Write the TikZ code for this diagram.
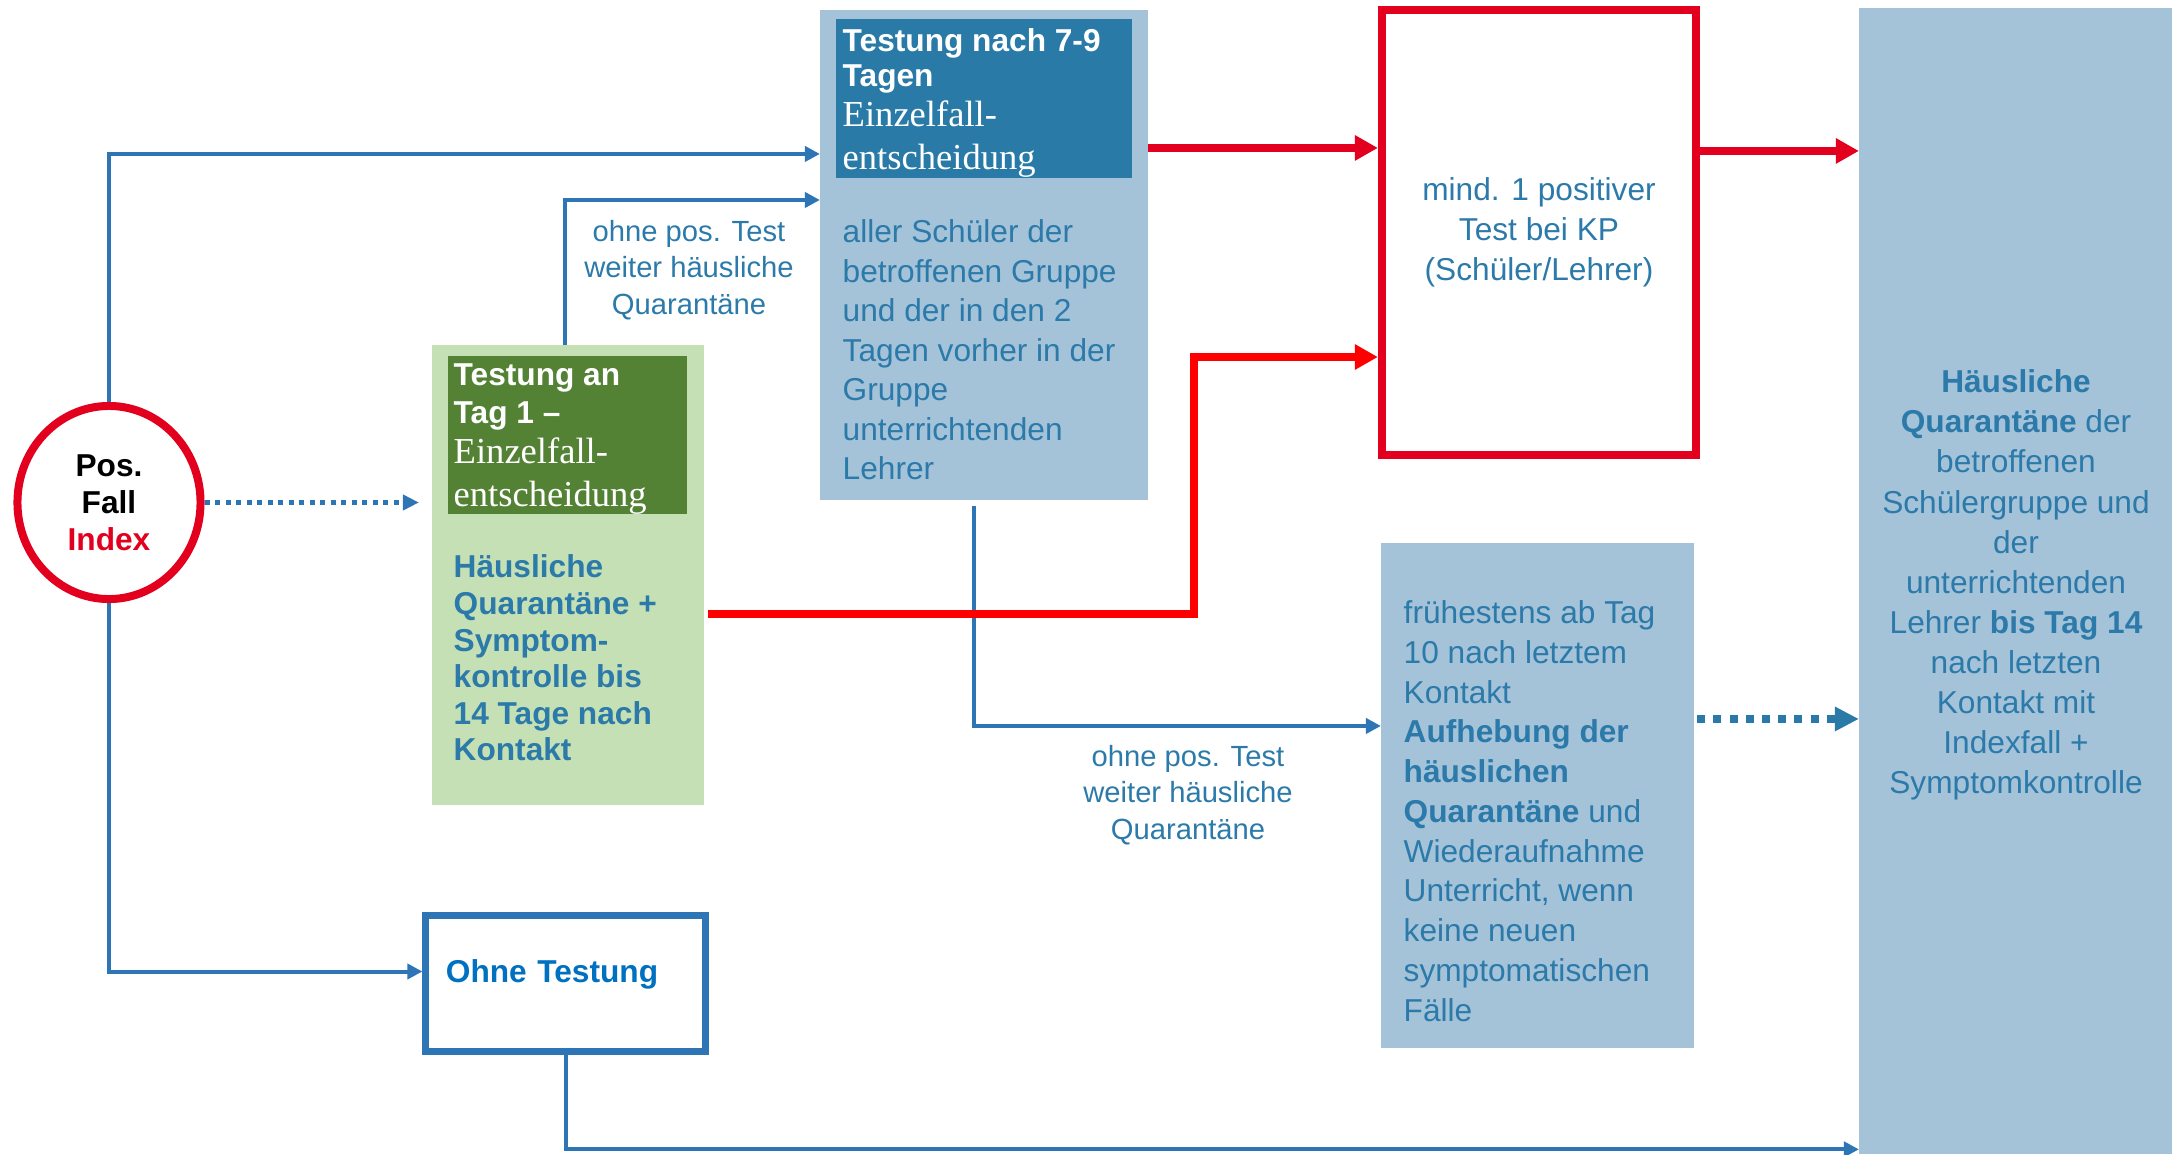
\documentclass[tikz,border=0pt]{standalone}
\usepackage{fontspec}
\setmainfont{Liberation Sans}
\newfontfamily\headserif{Liberation Serif}
\usetikzlibrary{arrows.meta,calc,shapes.geometric}

\definecolor{lineblue}{HTML}{2E75B6}
\definecolor{txtblue}{HTML}{2B7AAA}
\definecolor{hdblue}{HTML}{297AA7}
\definecolor{paleblue}{HTML}{A4C2D8}
\definecolor{palegreen}{HTML}{C5E0B4}
\definecolor{hdgreen}{HTML}{548235}
\definecolor{indexred}{HTML}{E3001F}
\definecolor{purered}{HTML}{FF0000}
\definecolor{ohneblue}{HTML}{0070C0}

\newcommand\serifline[1]{{\headserif\fontsize{10.4}{11.9}\selectfont #1}}

\tikzset{
  >=Triangle,
  txt/.style={text=txtblue, inner sep=0pt, align=left},
  panel/.style={fill=paleblue, inner sep=0pt, outer sep=0pt},
  header/.style={inner sep=0pt, text=white, align=left, anchor=west},
  bluearr/.style={draw=lineblue, line width=0.04cm, -{Triangle[length=0.15cm,width=0.15cm]}},
  redarr/.style={draw=indexred, line width=0.08cm, -{Triangle[length=0.23cm,width=0.24cm]}},
  dotarr/.style={draw=lineblue, line width=0.05cm, dash pattern=on 0.05cm off 0.055cm,
    -{Triangle[length=0.16cm,width=0.15cm]}},
  tealdot/.style={draw=hdblue, line width=0.08cm, dash pattern=on 0.08cm off 0.082cm,
    -{Triangle[length=0.24cm,width=0.23cm]}}
}

\begin{document}
\begin{tikzpicture}[x=0.01cm,y=-0.01cm]
  \useasboundingbox (0,0) rectangle (2172,1154);

  %% test after 7-9 days
  \node[panel, minimum width=3.28cm, minimum height=4.9cm] (grpA) at (984,255) {};
  \node[panel, fill=hdblue, minimum width=2.96cm, minimum height=1.59cm] (hdA) at (984,98.5) {};
  \node[header, font=\fontsize{9}{10}\selectfont] (hdAtxt) at (842,103)
    {\textbf{Testung nach 7-9}\\\textbf{Tagen}\\[1.5pt]\serifline{Einzelfall-}\\[2.2pt]\serifline{entscheidung}};
  \node[txt, anchor=west, font=\fontsize{9}{11.24}\selectfont] (txtA) at (842,350)
    {aller Schüler der\\betroffenen Gruppe\\und der in den 2\\Tagen vorher in der\\Gruppe\\unterrichtenden\\Lehrer};

  %% test on day 1
  \node[panel, fill=palegreen, minimum width=2.72cm, minimum height=4.6cm] (grnB) at (568,575) {};
  \node[panel, fill=hdgreen, minimum width=2.39cm, minimum height=1.58cm] (hdB) at (567.5,435) {};
  \node[header, font=\fontsize{9}{10.8}\selectfont] (hdBtxt) at (453,439)
    {\textbf{Testung an}\\\textbf{Tag 1 –}\\[0.6pt]\serifline{Einzelfall-}\\[1.2pt]\serifline{entscheidung}};
  \node[txt, anchor=west, font=\bfseries\fontsize{9}{10.4}\selectfont] (txtB) at (453,658)
    {Häusliche\\Quarantäne +\\Symptom-\\kontrolle bis\\14 Tage nach\\Kontakt};

  %% index case
  \node[ellipse, draw=indexred, line width=0.08cm, fill=white, minimum width=1.83cm,
    minimum height=1.93cm, inner sep=0pt, align=center,
    font=\bfseries\fontsize{9}{10.5}\selectfont] (circ) at (109,502.5)
    {Pos.\\Fall\\\textcolor{indexred}{Index}};

  %% positive test
  \node[draw=indexred, line width=0.08cm, minimum width=3.14cm, minimum height=4.45cm,
    txt, align=center, font=\fontsize{9}{11.4}\selectfont] (redB) at (1539,232.5)
    {mind. 1 positiver\\Test bei KP\\(Schüler/Lehrer)};

  %% lifting of quarantine
  \node[panel, minimum width=3.13cm, minimum height=5.05cm] (midB) at (1537.5,795.5) {};
  \node[txt, anchor=west, font=\fontsize{9}{11.3}\selectfont] (txtM) at (1403,811)
    {frühestens ab Tag\\10 nach letztem\\Kontakt\\\textbf{Aufhebung der}\\\textbf{häuslichen}\\
     \textbf{Quarantäne} und\\Wiederaufnahme\\Unterricht, wenn\\keine neuen\\symptomatischen\\Fälle};

  %% quarantine until day 14
  \node[panel, minimum width=3.13cm, minimum height=11.46cm] (bigB) at (2015.5,581) {};
  \node[txt, align=center, font=\fontsize{9}{11.4}\selectfont] (txtQ) at (2016,585)
    {\textbf{Häusliche}\\\textbf{Quarantäne} der\\betroffenen\\Schülergruppe und\\der\\unterrichtenden\\
     Lehrer \textbf{bis Tag 14}\\nach letzten\\Kontakt mit\\Indexfall +\\Symptomkontrolle};

  %% no testing
  \node[draw=lineblue, line width=0.07cm, minimum width=2.79cm, minimum height=1.35cm,
    text width=2.39cm, inner xsep=0.2cm, align=left, text=ohneblue, text height=0.23cm,
    text depth=0.25cm, font=\bfseries\fontsize{9}{11}\selectfont] (ohne) at (565.5,983.5) {Ohne Testung};

  %% labels
  \node[txt, align=center, font=\fontsize{8.3}{10.4}\selectfont] (lab1) at (689,270)
    {ohne pos. Test\\weiter häusliche\\Quarantäne};
  \node[txt, align=center, font=\fontsize{8.3}{10.4}\selectfont] (lab2) at (1188,795)
    {ohne pos. Test\\weiter häusliche\\Quarantäne};

  %% blue connectors
  \draw[bluearr] (circ.north) |- ([yshift=1.01cm]grpA.west);
  \draw[bluearr] ([xshift=-0.03cm]grnB.north) |- ([yshift=0.55cm]grpA.west);
  \draw[dotarr] (circ.east) -- ($(circ.east -| grnB.west)+(-13,0)$);
  \draw[bluearr] (circ.south) |- ([yshift=0.12cm]ohne.west);
  \draw[bluearr] (ohne.south) |- ($(bigB.south west)+(0,-5)$);
  \draw[bluearr] ([xshift=-0.1cm,yshift=-0.06cm]grpA.south) |- ([yshift=0.695cm]midB.west);
  \draw[tealdot] ([xshift=0.03cm,yshift=0.765cm]midB.east) coordinate (mE) -- (mE -| bigB.west);

  %% red connectors
  \coordinate (knee) at (1194,357);
  \draw[redarr] ([yshift=1.07cm]grpA.east) coordinate (rA) -- (rA -| redB.west);
  \draw[redarr, draw=purered] ([xshift=0.04cm,yshift=-0.39cm]grnB.east) -| (knee) -- (knee -| redB.west);
  \draw[redarr] ([yshift=0.815cm]redB.east) coordinate (rB) -- (rB -| bigB.west);
\end{tikzpicture}
\end{document}
